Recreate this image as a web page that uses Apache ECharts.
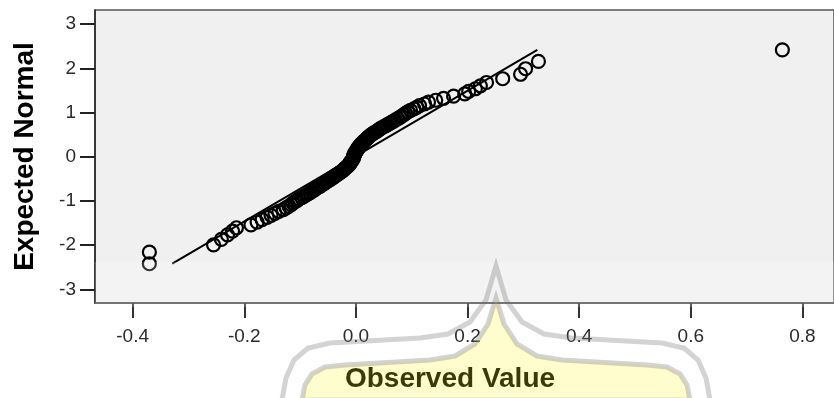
<!DOCTYPE html>
<html>
<head>
<meta charset="utf-8">
<script src="https://cdn.jsdelivr.net/npm/echarts@6/dist/echarts.min.js"></script>
<style>
  html, body { margin: 0; padding: 0; background: #fff; }
  #chart { width: 834px; height: 398px; }
</style>
</head>
<body>
<div id="chart"></div>
<script>
// expected normal value for each case (sorted)
const expected = [
  -2.418, -2.157, -1.991, -1.866, -1.765, -1.680, -1.605, -1.538, -1.477, -1.422,
  -1.371, -1.323, -1.278, -1.235, -1.194, -1.155, -1.118, -1.082, -1.048, -1.015,
  -0.983, -0.952, -0.922, -0.893, -0.864, -0.836, -0.809, -0.782, -0.756, -0.731,
  -0.705, -0.681, -0.656, -0.632, -0.609, -0.585, -0.562, -0.540, -0.517, -0.495,
  -0.473, -0.452, -0.431, -0.409, -0.388, -0.368, -0.347, -0.327, -0.306, -0.286,
  -0.266, -0.246, -0.226, -0.206, -0.186, -0.166, -0.146, -0.127, -0.107, -0.088,
  -0.068, -0.049, -0.029, -0.010,
  0.010, 0.029, 0.049, 0.068, 0.088, 0.107, 0.127, 0.146, 0.166, 0.186,
  0.206, 0.226, 0.246, 0.266, 0.286, 0.306, 0.327, 0.347, 0.368, 0.388,
  0.409, 0.431, 0.452, 0.473, 0.495, 0.517, 0.540, 0.562, 0.585, 0.609,
  0.632, 0.656, 0.681, 0.705, 0.731, 0.756, 0.782, 0.809, 0.836, 0.864,
  0.893, 0.922, 0.952, 0.983, 1.015, 1.048, 1.082, 1.118, 1.155, 1.194,
  1.235, 1.278, 1.323, 1.371, 1.422, 1.477, 1.538, 1.605, 1.680, 1.765,
  1.866, 1.991, 2.157, 2.418
];

// observed values, same order
const observed = [
  -0.370, -0.370, -0.255, -0.241, -0.230, -0.221, -0.214, -0.188, -0.177, -0.168,
  -0.159, -0.152, -0.145, -0.138, -0.130, -0.125, -0.120, -0.116, -0.113, -0.109,
  -0.105, -0.102, -0.097, -0.093, -0.089, -0.086, -0.082, -0.079, -0.075, -0.073,
  -0.070, -0.066, -0.063, -0.061, -0.057, -0.055, -0.052, -0.050, -0.046, -0.045,
  -0.041, -0.039, -0.038, -0.034, -0.032, -0.030, -0.027, -0.025, -0.023, -0.021,
  -0.020, -0.018, -0.016, -0.014, -0.013, -0.011, -0.011, -0.009, -0.009, -0.007,
  -0.007, -0.005, -0.005, -0.004,
  -0.004, -0.004, -0.002, -0.002, -0.002, 0.000, 0.000, 0.002, 0.002, 0.004,
  0.005, 0.005, 0.007, 0.009, 0.009, 0.011, 0.013, 0.014, 0.016, 0.018,
  0.020, 0.021, 0.023, 0.025, 0.027, 0.030, 0.032, 0.036, 0.038, 0.041,
  0.043, 0.046, 0.050, 0.054, 0.057, 0.061, 0.064, 0.068, 0.071, 0.075,
  0.079, 0.082, 0.086, 0.089, 0.093, 0.098, 0.104, 0.109, 0.114, 0.123,
  0.130, 0.143, 0.157, 0.175, 0.195, 0.202, 0.214, 0.223, 0.234, 0.263,
  0.295, 0.304, 0.327, 0.764
];

// reference line ends
const lineX = [-0.329, 0.325];
const lineY = [-2.418, 2.418];

const xTicks = [-0.4, -0.2, 0.0, 0.2, 0.4, 0.6, 0.8];
const yTicks = [-3, -2, -1, 0, 1, 2, 3];

const font = "'Liberation Sans', Arial, sans-serif";

const chart = echarts.init(document.getElementById('chart'));

// outlines of the faint watermark below the plot
const wmInner = [[302,400],[305,385],[312,374],[325,367],[345,365],[430,360],[455,356],[475,344],
  [488,324],[496,298],[504,324],[517,344],[537,356],[562,360],[647,365],[667,367],[680,374],[687,385],[690,400]];
const wmOuter = [[282,400],[286,378],[294,360],[308,348],[330,343],[420,338],[448,334],[470,322],
  [486,300],[496,266],[506,300],[522,322],[544,334],[572,338],[662,343],[684,348],[698,360],[706,378],[710,400]];

chart.setOption({
  animation: false,
  backgroundColor: '#fff',
  grid: {
    left: 95,
    right: -2,
    top: 10,
    bottom: 91,
    show: true,
    backgroundColor: '#f0f0f0',
    borderColor: '#555',
    borderWidth: 1.5
  },
  xAxis: {
    type: 'value',
    min: -0.4674,
    max: 0.8565,
    name: 'Observed Value',
    nameLocation: 'middle',
    nameGap: 62,
    nameTextStyle: {
      fontFamily: font, fontSize: 28, fontWeight: 'bold', color: '#000',
      padding: [0, 29, 0, 0]
    },
    splitLine: { show: false },
    axisLine: { show: true, onZero: false, lineStyle: { color: '#444', width: 1.5 } },
    axisTick: {
      show: true, inside: false, length: 15, customValues: xTicks,
      lineStyle: { color: '#333', width: 2 }
    },
    axisLabel: {
      customValues: xTicks,
      margin: 24,
      fontFamily: font, fontSize: 19, color: '#2b2b2b',
      formatter: v => v.toFixed(1)
    }
  },
  yAxis: {
    type: 'value',
    min: -3.306,
    max: 3.319,
    name: 'Expected Normal',
    nameLocation: 'middle',
    nameGap: 56,
    nameTextStyle: { fontFamily: font, fontSize: 28, fontWeight: 'bold', color: '#000' },
    splitLine: { show: false },
    axisLine: { show: true, onZero: false, lineStyle: { color: '#222', width: 1.5 } },
    axisTick: {
      show: true, inside: false, length: 15, customValues: yTicks,
      lineStyle: { color: '#222', width: 2 }
    },
    axisLabel: {
      customValues: yTicks,
      margin: 19,
      fontFamily: font, fontSize: 19, color: '#2b2b2b',
      formatter: v => String(v)
    }
  },
  series: [
    {
      type: 'line',
      data: lineX.map((x, i) => [x, lineY[i]]),
      symbol: 'none',
      lineStyle: { color: '#000', width: 2 },
      z: 2
    },
    {
      type: 'scatter',
      data: observed.map((x, i) => [x, expected[i]]),
      symbol: 'circle',
      symbolSize: 13,
      itemStyle: { color: 'rgba(0,0,0,0)', borderColor: '#000', borderWidth: 2.2, opacity: 1 },
      z: 3
    }
  ],
  graphic: [
    {
      type: 'rect', z: 100, silent: true,
      shape: { x: 95, y: 262, width: 740, height: 45 },
      style: { fill: 'rgba(255,255,255,0.2)' }
    },
    {
      type: 'polygon', z: 100, silent: true,
      shape: { points: wmInner },
      style: { fill: 'rgba(255,248,40,0.23)', stroke: 'rgba(110,110,110,0.3)', lineWidth: 5 }
    },
    {
      type: 'polyline', z: 100, silent: true,
      shape: { points: wmOuter },
      style: { fill: null, stroke: 'rgba(110,110,110,0.3)', lineWidth: 5 }
    }
  ]
});
</script>
</body>
</html>
